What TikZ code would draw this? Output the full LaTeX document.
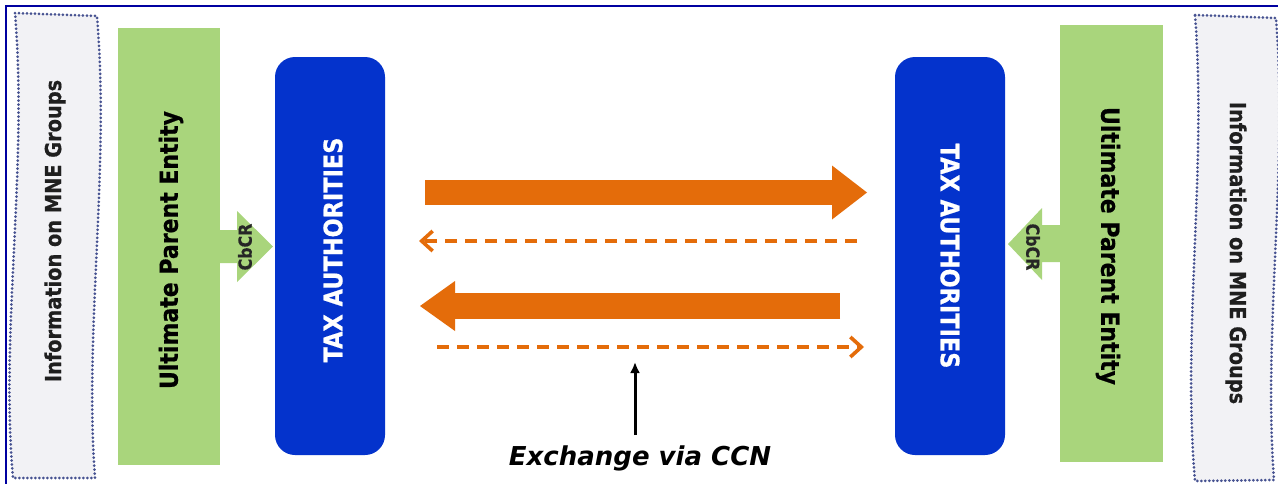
\documentclass[tikz,border=0pt]{standalone}
\usepackage{fontspec}
\setmainfont{DejaVu Sans}
\newfontfamily\narrowsans{DejaVu Sans}[FakeStretch=0.88,FakeBold=0.6]
\usetikzlibrary{arrows.meta}
\definecolor{upegreen}{RGB}{169,213,124}
\definecolor{taxblue}{RGB}{4,51,204}
\definecolor{xorange}{RGB}{228,108,10}
\definecolor{infofill}{RGB}{242,242,245}
\definecolor{infoline}{RGB}{70,82,145}
\definecolor{framecol}{RGB}{0,0,160}
\begin{document}
\begin{tikzpicture}[x=1pt,y=-1pt,
  greenbox/.style={fill=upegreen,draw=none,minimum width=102pt,minimum height=437pt,inner sep=0pt},
  taxbox/.style={fill=taxblue,draw=none,rounded corners=20pt,minimum width=110pt,minimum height=398pt,inner sep=0pt},
  infobox/.style={fill=infofill,draw=infoline,line width=3pt,line cap=round,dash pattern=on 0pt off 4pt},
  infotext/.style={font=\narrowsans\bfseries\fontsize{22}{26}\selectfont,text=black!88,inner sep=0pt},
  upetext/.style={font=\narrowsans\bfseries\fontsize{25}{29}\selectfont,text=black,inner sep=0pt},
  taxtext/.style={font=\narrowsans\bfseries\fontsize{25.5}{29}\selectfont,text=white,inner sep=0pt},
  cbcrtext/.style={font=\narrowsans\bfseries\fontsize{18}{21}\selectfont,text=black!85,inner sep=0pt},
  cbcrarrow/.style={fill=upegreen,draw=none},
  bigarrow/.style={draw=xorange,line width=#1},
  dasharrow/.style={draw=xorange,line width=3.6pt,dash pattern=on 12pt off 8pt,-{Straight Barb[length=11pt,width=20pt,line width=3.6pt]}},
  ccnarrow/.style={draw=black,line width=3pt,-{Latex[length=11pt,width=10pt]}}
]
\useasboundingbox (0,0) rectangle (1278,483);
\clip (0,0) rectangle (1278,483);
\fill[white] (0,0) rectangle (1278,483);

% frame
\draw[framecol,line width=2.6pt] (6,490) -- (6,6) -- (1290,6);

% information boxes (wavy)
\path[infobox] (15,13) -- (97,16) .. controls (110,170) and (84,330) .. (95,478)
   -- (13,478) .. controls (0,330) and (28,170) .. (15,13) -- cycle;
\node[infotext,rotate=90] (infoL) at (55,231) {Information on MNE Groups};
\path[infobox] (1195,15) -- (1276,18) .. controls (1288,170) and (1263,330) .. (1274,480)
   -- (1195,481) .. controls (1182,330) and (1207,170) .. (1195,15) -- cycle;
\node[infotext,rotate=-90] (infoR) at (1236,253) {Information on MNE Groups};

% ultimate parent entity boxes
\node[greenbox] (upeL) at (169,246.5) {};
\node[upetext,rotate=90] (upeLt) at (171,250) {Ultimate Parent Entity};
\node[greenbox,minimum width=103pt] (upeR) at (1111.5,243.5) {};
\node[upetext,rotate=-90] (upeRt) at (1108,246) {Ultimate Parent Entity};

% tax authorities boxes
\node[taxbox] (taxL) at (330,256) {};
\node[taxtext,rotate=90] (taxLt) at (333,250) {TAX AUTHORITIES};
\node[taxbox] (taxR) at (950,256) {};
\node[taxtext,rotate=-90] (taxRt) at (950,256) {TAX AUTHORITIES};

% CbCR arrows
\path[cbcrarrow] (220,230) -- (237,230) -- (237,211) -- (273,246.5) -- (237,282) -- (237,263) -- (220,263) -- cycle;
\node[cbcrtext,rotate=90] (cbcrL) at (245,247) {CbCR};
\path[cbcrarrow] (1060,225) -- (1042,225) -- (1042,208) -- (1008,244) -- (1042,280) -- (1042,262) -- (1060,262) -- cycle;
\node[cbcrtext,rotate=-90] (cbcrR) at (1033,247) {CbCR};

% exchange arrows
\coordinate (a1s) at (425,192.5);
\coordinate (a1e) at (867,192.5);
\draw[bigarrow=25pt,-{Triangle[length=35pt,width=54pt,line width=0pt]}] (a1s) -- (a1e);
\coordinate (d1s) at (857,241);
\coordinate (d1e) at (419,241);
\draw[dasharrow] (d1s) -- (d1e);
\coordinate (a2s) at (840,306);
\coordinate (a2e) at (420,306);
\draw[bigarrow=26pt,-{Triangle[length=35pt,width=50pt,line width=0pt]}] (a2s) -- (a2e);
\coordinate (d2s) at (437,347);
\coordinate (d2e) at (864,347);
\draw[dasharrow] (d2s) -- (d2e);

% label
\node[font=\bfseries\itshape\fontsize{26}{31}\selectfont,inner sep=0pt] (ccn) at (640,458) {Exchange via CCN};
\coordinate (ccnFoot) at (635,435);
\coordinate (ccnTip) at (635,362);
\draw[ccnarrow] (ccnFoot) -- (ccnTip);
\end{tikzpicture}
\end{document}
